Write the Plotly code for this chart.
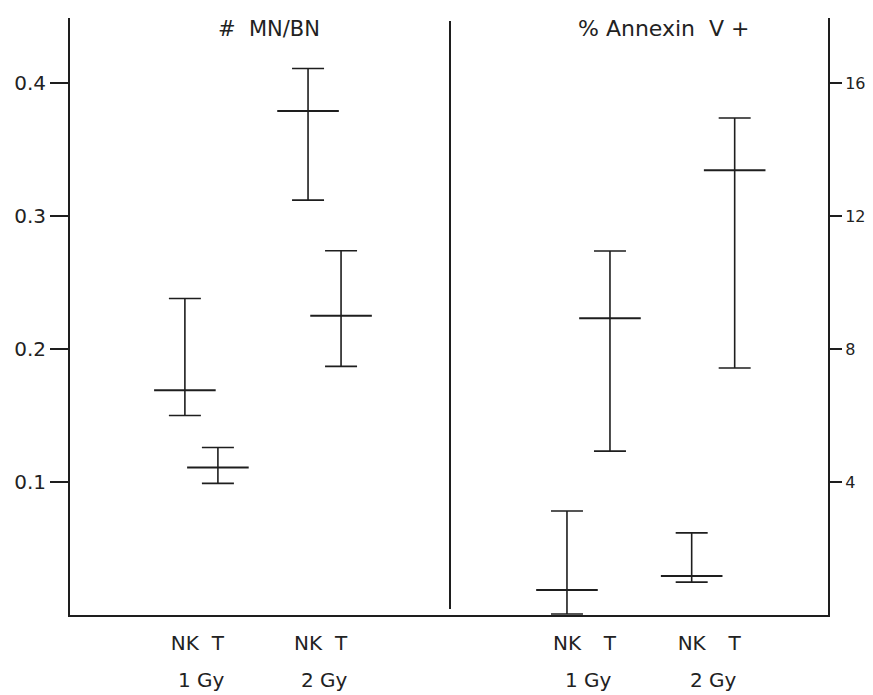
import plotly.graph_objects as go

# ---- data ----
doses = ["1 Gy", "2 Gy"]
cells = ["NK", "T"]
# order: NK 1Gy, T 1Gy, NK 2Gy, T 2Gy
mn_mean = [0.169, 0.111, 0.379, 0.225]
mn_upper = [0.238, 0.126, 0.411, 0.274]
mn_lower = [0.150, 0.099, 0.312, 0.187]

ann_mean = [0.75, 8.93, 1.17, 13.38]
ann_upper = [3.13, 10.95, 2.47, 14.95]
ann_lower = [0.03, 4.93, 0.99, 7.43]

left_ticks = [0.1, 0.2, 0.3, 0.4]
right_ticks = [4, 8, 12, 16]

# ---- styling ----
LINE = "#1e1e1e"
TXT = "#222222"
FONT = "DejaVu Sans, Liberation Sans, Arial, sans-serif"
GAP_L = 3.73
GAP_R = 2.9


def positions(group_gap):
    xs, labels = [], []
    for g, _d in enumerate(doses):
        for s, c in enumerate(cells):
            xs.append(g * group_gap + s)
            labels.append(c)
    return xs, labels


xl, lab_l = positions(GAP_L)
xr, lab_r = positions(GAP_R)

fig = go.Figure()


def add_panel(xs, mean, upper, lower, xa, ya):
    fig.add_trace(go.Scatter(
        x=xs, y=mean, mode="markers", xaxis=xa, yaxis=ya,
        marker=dict(symbol="line-ew", size=44, color=LINE,
                    line=dict(width=2, color=LINE)),
        error_y=dict(type="data", symmetric=False,
                     array=[u - m for u, m in zip(upper, mean)],
                     arrayminus=[m - l for m, l in zip(mean, lower)],
                     width=16, thickness=1.6, color=LINE),
        showlegend=False, hoverinfo="skip"))


add_panel(xl, mn_mean, mn_upper, mn_lower, "x", "y")
add_panel(xr, ann_mean, ann_upper, ann_lower, "x2", "y2")

axfont = dict(family=FONT, size=20, color=TXT)
rfont = dict(family=FONT, size=16, color=TXT)
split = 380 / 758

fig.update_layout(
    width=865, height=687,
    margin=dict(l=62, r=45, t=10, b=80),
    paper_bgcolor="white", plot_bgcolor="white",
    font=axfont,
    xaxis=dict(domain=[0, split], range=[-3.48, 8.03], showgrid=False,
               zeroline=False, showline=True, linecolor=LINE, linewidth=2,
               tickvals=xl, ticktext=lab_l, ticks="", ticklabelstandoff=9,
               tickfont=axfont, anchor="y", automargin=False),
    xaxis2=dict(domain=[split, 1], range=[-2.72, 6.07], showgrid=False,
                zeroline=False, showline=True, linecolor=LINE, linewidth=2,
                tickvals=xr, ticktext=lab_r, ticks="", ticklabelstandoff=9,
                tickfont=axfont, anchor="y2", automargin=False),
    yaxis=dict(range=[0, 0.449], showgrid=False, zeroline=False,
               showline=True, linecolor=LINE, linewidth=2,
               tickvals=left_ticks, ticktext=[f"{v:.1f}" for v in left_ticks],
               ticks="outside", ticklen=18, tickwidth=2, tickcolor=LINE,
               tickfont=axfont, anchor="x", side="left", automargin=False),
    yaxis2=dict(range=[0, 17.96], showgrid=False, zeroline=False,
                showline=True, linecolor=LINE, linewidth=2,
                tickvals=right_ticks, ticktext=[str(v) for v in right_ticks],
                ticks="outside", ticklen=12, tickwidth=2, tickcolor=LINE,
                tickfont=rfont, anchor="x2", side="right", automargin=False),
)

# divider between panels
fig.add_shape(type="line", xref="paper", yref="paper", x0=split, x1=split,
              y0=0.01, y1=0.995, line=dict(color=LINE, width=2))

# titles
fig.add_annotation(text="#  MN/BN", xref="paper", yref="paper", x=0.2625, y=0.981,
                   xanchor="center", yanchor="middle", showarrow=False,
                   font=dict(family=FONT, size=21, color=TXT))
fig.add_annotation(text="% Annexin  V +", xref="paper", yref="paper", x=0.783, y=0.983,
                   xanchor="center", yanchor="middle", showarrow=False,
                   font=dict(family=FONT, size=22, color=TXT))

# dose labels
for g, d in enumerate(doses):
    fig.add_annotation(text=d, xref="x", yref="paper", x=g * GAP_L + 0.5, y=0,
                       xanchor="center", yanchor="middle", yshift=-65,
                       showarrow=False, font=axfont)
    fig.add_annotation(text=d, xref="x2", yref="paper", x=g * GAP_R + 0.5, y=0,
                       xanchor="center", yanchor="middle", yshift=-65,
                       showarrow=False, font=axfont)

fig.write_html("out.html")
